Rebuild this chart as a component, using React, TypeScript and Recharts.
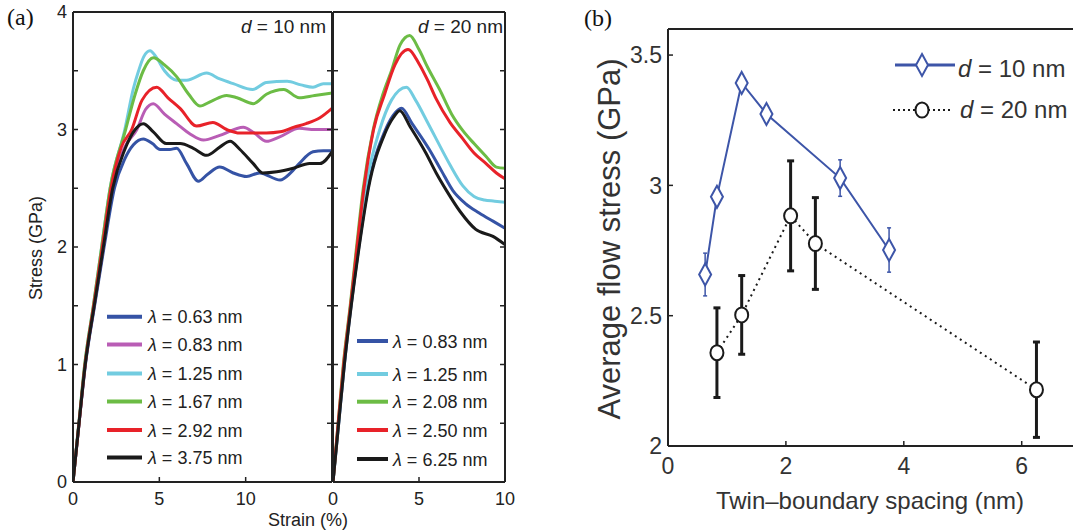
import React from "react";
import { LineChart, Line, XAxis, YAxis, ErrorBar } from "recharts";

type Pt = [number, number];

// (a) left: d = 10 nm, [strain (%), stress (GPa)]
const d10_063: Pt[] = [[0, 0], [0.35, 0.5], [0.72, 1.0], [1.25, 1.5], [1.8, 2.0], [2.4, 2.5], [3.0, 2.75], [3.5, 2.87], [4.07, 2.92], [4.6, 2.88], [5.04, 2.83], [5.6, 2.83], [6.0, 2.84], [6.58, 2.71], [7.26, 2.56], [7.8, 2.62], [8.5, 2.68], [9.28, 2.63], [10.06, 2.6], [10.8, 2.63], [12.0, 2.57], [12.6, 2.63], [13.1, 2.71], [13.9, 2.81], [14.5, 2.82], [15, 2.82]];
const d10_083: Pt[] = [[0, 0], [0.35, 0.5], [0.7, 1.0], [1.22, 1.5], [1.75, 2.0], [2.25, 2.5], [3.0, 2.85], [3.7, 3.0], [4.2, 3.17], [4.65, 3.22], [5.3, 3.13], [6.0, 3.05], [6.8, 2.96], [7.55, 2.91], [8.5, 2.95], [9.86, 3.02], [10.5, 2.97], [11.2, 2.9], [12.0, 2.94], [13.1, 3.01], [14.0, 3.0], [15, 3.0]];
const d10_125: Pt[] = [[0, 0], [0.34, 0.5], [0.68, 1.0], [1.18, 1.5], [1.66, 2.0], [2.15, 2.5], [3.0, 3.0], [3.5, 3.35], [3.8, 3.5], [4.1, 3.62], [4.46, 3.67], [4.8, 3.62], [5.3, 3.5], [6.0, 3.42], [6.58, 3.42], [7.74, 3.48], [8.5, 3.43], [9.28, 3.39], [10.4, 3.34], [11.2, 3.4], [12.4, 3.41], [13.2, 3.38], [13.9, 3.36], [14.5, 3.39], [15, 3.39]];
const d10_167: Pt[] = [[0, 0], [0.34, 0.5], [0.68, 1.0], [1.18, 1.5], [1.66, 2.0], [2.15, 2.5], [3.05, 3.0], [3.6, 3.3], [4.07, 3.5], [4.65, 3.61], [5.3, 3.55], [6.0, 3.45], [6.7, 3.3], [7.35, 3.2], [8.0, 3.24], [8.9, 3.29], [9.5, 3.27], [10.44, 3.22], [11.2, 3.3], [12.2, 3.34], [13.1, 3.27], [14.0, 3.29], [15, 3.31]];
const d10_292: Pt[] = [[0, 0], [0.35, 0.5], [0.7, 1.0], [1.2, 1.5], [1.7, 2.0], [2.2, 2.5], [2.8, 2.85], [3.4, 3.0], [4.0, 3.25], [4.85, 3.36], [5.5, 3.27], [6.2, 3.18], [7.16, 3.03], [8.1, 3.06], [8.9, 3.0], [9.67, 2.97], [11.2, 2.97], [12.0, 2.98], [12.8, 3.02], [13.5, 3.05], [14.3, 3.1], [15, 3.18]];
const d10_375: Pt[] = [[0, 0], [0.35, 0.5], [0.71, 1.0], [1.23, 1.5], [1.76, 2.0], [2.3, 2.5], [3.0, 2.83], [3.6, 3.0], [4.07, 3.05], [4.65, 2.98], [5.4, 2.88], [6.2, 2.88], [6.97, 2.84], [7.74, 2.78], [8.5, 2.85], [9.1, 2.9], [9.67, 2.83], [10.44, 2.71], [11.0, 2.63], [11.8, 2.64], [12.76, 2.67], [13.7, 2.71], [14.3, 2.71], [15, 2.81]];

// (a) right: d = 20 nm
const d20_083: Pt[] = [[0, 0], [0.33, 0.5], [0.66, 1.0], [1.05, 1.5], [1.5, 2.0], [2.03, 2.5], [3.0, 2.98], [3.5, 3.12], [3.98, 3.18], [4.6, 3.05], [5.6, 2.83], [6.3, 2.65], [6.97, 2.48], [7.7, 2.37], [8.5, 2.29], [9.3, 2.22], [10, 2.16]];
const d20_125: Pt[] = [[0, 0], [0.32, 0.5], [0.64, 1.0], [1.03, 1.5], [1.45, 2.0], [1.9, 2.5], [2.72, 3.0], [3.4, 3.25], [4.27, 3.36], [4.8, 3.25], [5.5, 3.06], [6.0, 2.92], [6.8, 2.7], [7.55, 2.52], [8.2, 2.43], [8.8, 2.4], [9.4, 2.39], [10, 2.38]];
const d20_208: Pt[] = [[0, 0], [0.3, 0.5], [0.6, 1.0], [1.0, 1.5], [1.37, 2.0], [1.76, 2.5], [2.34, 3.0], [2.9, 3.3], [3.4, 3.5], [3.9, 3.72], [4.46, 3.8], [5.0, 3.68], [5.5, 3.53], [6.2, 3.34], [6.9, 3.13], [7.55, 2.99], [8.2, 2.88], [8.9, 2.77], [9.5, 2.68], [10, 2.67]];
const d20_250: Pt[] = [[0, 0], [0.3, 0.5], [0.62, 1.0], [1.02, 1.5], [1.4, 2.0], [1.8, 2.5], [2.36, 3.0], [3.0, 3.3], [3.6, 3.55], [4.36, 3.68], [5.0, 3.56], [5.5, 3.42], [6.0, 3.26], [6.8, 3.06], [7.55, 2.92], [8.2, 2.8], [8.9, 2.71], [9.5, 2.63], [10, 2.58]];
const d20_625: Pt[] = [[0, 0], [0.33, 0.5], [0.66, 1.0], [1.06, 1.5], [1.52, 2.0], [2.06, 2.5], [3.0, 2.96], [3.5, 3.1], [3.88, 3.16], [4.5, 3.02], [5.4, 2.8], [6.0, 2.63], [6.6, 2.48], [7.4, 2.3], [8.3, 2.15], [9.3, 2.09], [10, 2.02]];

const lambdasD10 = ["0.63", "0.83", "1.25", "1.67", "2.92", "3.75"];
const lambdasD20 = ["0.83", "1.25", "2.08", "2.50", "6.25"];

// (b) twin-boundary spacing (nm) vs average flow stress (GPa), with error
const spacingD10 = [0.63, 0.83, 1.25, 1.67, 2.92, 3.75];
const flowD10 = [2.658, 2.956, 3.393, 3.274, 3.028, 2.752];
const errD10 = [0.082, 0.03, 0.03, 0.03, 0.07, 0.085];
const spacingD20 = [0.83, 1.25, 2.08, 2.5, 6.25];
const flowD20 = [2.358, 2.503, 2.883, 2.777, 2.216];
const errD20 = [0.172, 0.151, 0.211, 0.176, 0.183];

const BLUE = "#3553a5";
const MAGENTA = "#b95db5";
const CYAN = "#72cce0";
const GREEN = "#6cbc45";
const RED = "#e82229";
const BLACK = "#1a1a1a";
const BBLUE = "#3d55a8";
const AXIS = "#222";
const SANS = "'Liberation Sans', Arial, Helvetica, sans-serif";

const curvesD10 = [
  { pts: d10_063, color: BLUE },
  { pts: d10_083, color: MAGENTA },
  { pts: d10_125, color: CYAN },
  { pts: d10_167, color: GREEN },
  { pts: d10_292, color: RED },
  { pts: d10_375, color: BLACK },
];
const curvesD20 = [
  { pts: d20_083, color: BLUE },
  { pts: d20_125, color: CYAN },
  { pts: d20_208, color: GREEN },
  { pts: d20_250, color: RED },
  { pts: d20_625, color: BLACK },
];

const toRows = (pts: Pt[]) => pts.map(([x, y]) => ({ x, y }));
const intOnly = (v: number) => (Number.isInteger(v) ? String(v) : "");
const yTicksA = [0, 0.5, 1, 1.5, 2, 2.5, 3, 3.5, 4];
const axisLine = { stroke: AXIS, strokeWidth: 2 };

type Side = "left" | "right" | "bottom" | "top";
interface TickStyle {
  fontSize: number;
  fill: string;
}

// inward tick mark plus (optional) label; m is the tickMargin given to the axis
const inwardTick = (side: Side, m: number, style: TickStyle | null, fmt: (v: number) => string = String) => (props: any) => {
  const { x, y, payload, index } = props;
  const label = style ? fmt(payload.value) : "";
  const t = 5;
  let mark;
  let text = null;
  if (side === "left") {
    const ax = x + m;
    mark = <line x1={ax} x2={ax + t} y1={y} y2={y} stroke={AXIS} strokeWidth={1.5} />;
    if (label) text = <text x={x} y={y} dy="0.36em" textAnchor="end" fontSize={style!.fontSize} fill={style!.fill} fontFamily={SANS}>{label}</text>;
  } else if (side === "right") {
    const ax = x - m;
    mark = <line x1={ax} x2={ax - t} y1={y} y2={y} stroke={AXIS} strokeWidth={1.5} />;
  } else if (side === "bottom") {
    const ay = y - m;
    mark = <line x1={x} x2={x} y1={ay} y2={ay - t} stroke={AXIS} strokeWidth={1.5} />;
    if (label) text = <text x={x} y={y} dy="0.72em" textAnchor="middle" fontSize={style!.fontSize} fill={style!.fill} fontFamily={SANS}>{label}</text>;
  } else {
    const ay = y + m;
    mark = <line x1={x} x2={x} y1={ay} y2={ay + t} stroke={AXIS} strokeWidth={1.5} />;
  }
  return (
    <g key={index}>
      {mark}
      {text}
    </g>
  );
};

const tickA = { fontSize: 18, fill: "#222" };
const tickB = { fontSize: 23, fill: "#333" };

interface StressProps {
  width: number;
  margin: { top: number; right: number; bottom: number; left: number };
  xMax: number;
  curves: { pts: Pt[]; color: string }[];
  yLabels: boolean;
}

// axes are 1px thick so that recharts draws them; margins account for that
const StressPanel = ({ width, margin, xMax, curves, yLabels }: StressProps) => (
  <LineChart width={width} height={532} margin={margin}>
    <XAxis xAxisId="b" type="number" dataKey="x" domain={[0, xMax]} ticks={[0, 5, 10]} interval={0} height={1}
      tickSize={0} tickMargin={10} axisLine={axisLine} tickLine={false} tick={inwardTick("bottom", 10, tickA)} allowDataOverflow />
    <XAxis xAxisId="t" orientation="top" type="number" domain={[0, xMax]} ticks={[5, 10]} interval={0} height={1}
      tickSize={0} tickMargin={0} axisLine={axisLine} tickLine={false} tick={inwardTick("top", 0, null)} allowDataOverflow />
    <YAxis yAxisId="l" type="number" domain={[0, 4]} ticks={yTicksA} interval={0} width={1} tickSize={0}
      tickMargin={6} axisLine={axisLine} tickLine={false}
      tick={inwardTick("left", 6, yLabels ? tickA : null, intOnly)} allowDataOverflow />
    <YAxis yAxisId="r" orientation="right" type="number" domain={[0, 4]} ticks={yTicksA} interval={0} width={1}
      tickSize={0} tickMargin={0} axisLine={axisLine} tickLine={false} tick={inwardTick("right", 0, null)} allowDataOverflow />
    {curves.map((c, i) => (
      <Line
        key={i}
        xAxisId="b"
        yAxisId="l"
        data={toRows(c.pts)}
        dataKey="y"
        type="monotone"
        stroke={c.color}
        strokeWidth={3}
        dot={false}
        isAnimationActive={false}
      />
    ))}
  </LineChart>
);

const diamondDot = (props: any) => {
  const { cx, cy, index } = props;
  if (cx == null || cy == null) return <g key={index} />;
  return (
    <polygon
      key={index}
      points={`${cx},${cy - 11} ${cx + 6},${cy} ${cx},${cy + 11} ${cx - 6},${cy}`}
      fill="#fff"
      stroke={BBLUE}
      strokeWidth={2}
    />
  );
};

const circleDot = (props: any) => {
  const { cx, cy, index } = props;
  if (cx == null || cy == null) return <g key={index} />;
  return <ellipse key={index} cx={cx} cy={cy} rx={6.5} ry={7.5} fill="#fff" stroke={BLACK} strokeWidth={2} />;
};

const rowsD10 = spacingD10.map((x, i) => ({ x, y: flowD10[i], e: errD10[i] }));
const rowsD20 = spacingD20.map((x, i) => ({ x, y: flowD20[i], e: errD20[i] }));

const FlowPanel = () => (
  <LineChart width={493} height={532} margin={{ top: 28, right: 0, bottom: 85, left: 87 }}>
    <XAxis xAxisId="b" type="number" dataKey="x" domain={[0, 6.87]} ticks={[0, 2, 4, 6]} interval={0} height={1}
      tickSize={0} tickMargin={11} axisLine={axisLine} tickLine={false} tick={inwardTick("bottom", 11, tickB)} allowDataOverflow />
    <XAxis xAxisId="t" orientation="top" type="number" domain={[0, 6.87]} ticks={[2, 4, 6]} interval={0} height={1}
      tickSize={0} tickMargin={0} axisLine={axisLine} tickLine={false} tick={inwardTick("top", 0, null)} allowDataOverflow />
    <YAxis yAxisId="l" type="number" domain={[2, 3.6]} ticks={[2, 2.5, 3, 3.5]} interval={0} width={1} tickSize={0}
      tickMargin={6} axisLine={axisLine} tickLine={false} tick={inwardTick("left", 6, tickB)} allowDataOverflow />
    <Line
      xAxisId="b"
      yAxisId="l"
      data={rowsD20}
      dataKey="y"
      stroke={BLACK}
      strokeWidth={2}
      strokeDasharray="2 4"
      dot={circleDot}
      isAnimationActive={false}
    >
      <ErrorBar dataKey="e" direction="y" width={3.5} strokeWidth={3} stroke={BLACK} />
    </Line>
    <Line
      xAxisId="b"
      yAxisId="l"
      data={rowsD10}
      dataKey="y"
      stroke={BBLUE}
      strokeWidth={2}
      dot={diamondDot}
      isAnimationActive={false}
    >
      <ErrorBar dataKey="e" direction="y" width={2} strokeWidth={1.5} stroke={BBLUE} />
    </Line>
  </LineChart>
);

// text, legends and panel letters drawn on top
const Overlay = () => {
  const rowsL = [316.7, 344.5, 373.5, 401.5, 430, 457.5];
  const rowsR = [341, 374, 401.7, 430, 459];
  return (
    <svg
      width={1073}
      height={532}
      style={{ position: "absolute", left: 0, top: 0, pointerEvents: "none" }}
      fontFamily={SANS}
    >
      <text x={7} y={25} fontFamily="'Liberation Serif', 'Times New Roman', serif" fontSize={24} fill="#111">(a)</text>
      <text x={584} y={26} fontFamily="'Liberation Serif', 'Times New Roman', serif" fontSize={24} fill="#111">(b)</text>

      <text x={326} y={33} fontSize={19} fill="#222" textAnchor="end">
        <tspan fontStyle="italic">d</tspan> = 10 nm
      </text>
      <text x={503} y={33} fontSize={19} fill="#222" textAnchor="end">
        <tspan fontStyle="italic">d</tspan> = 20 nm
      </text>

      <text transform="translate(41.5,248) rotate(-90)" fontSize={18} fill="#222" textAnchor="middle">Stress (GPa)</text>
      <text x={308} y={526} fontSize={18} fill="#222" textAnchor="middle">Strain (%)</text>

      {lambdasD10.map((l, i) => (
        <g key={"l" + i}>
          <line x1={107} x2={142} y1={rowsL[i]} y2={rowsL[i]} stroke={curvesD10[i].color} strokeWidth={4} />
          <text x={148} y={rowsL[i] + 6.5} fontSize={18} fill="#222">
            <tspan fontStyle="italic">λ</tspan> = {l} nm
          </text>
        </g>
      ))}
      {lambdasD20.map((l, i) => (
        <g key={"r" + i}>
          <line x1={357} x2={388} y1={rowsR[i]} y2={rowsR[i]} stroke={curvesD20[i].color} strokeWidth={4} />
          <text x={393} y={rowsR[i] + 6.5} fontSize={18} fill="#222">
            <tspan fontStyle="italic">λ</tspan> = {l} nm
          </text>
        </g>
      ))}

      <text transform="translate(620,239) rotate(-90)" fontSize={31} fill="#333" textAnchor="middle">
        Average flow stress (GPa)
      </text>
      <text x={870} y={509} fontSize={24} fill="#333" textAnchor="middle">
        Twin–boundary spacing (nm)
      </text>

      <line x1={895} x2={955} y1={65} y2={65} stroke={BBLUE} strokeWidth={3} />
      <polygon points="922,54 928,65 922,76 916,65" fill="#fff" stroke={BBLUE} strokeWidth={2} />
      <text x={958} y={76.5} fontSize={24} fill="#333">
        <tspan fontStyle="italic">d</tspan> = 10 nm
      </text>
      <line x1={893} x2={953} y1={110} y2={110} stroke={BLACK} strokeWidth={2} strokeDasharray="2 3" />
      <ellipse cx={922} cy={110} rx={6.5} ry={7.5} fill="#fff" stroke={BLACK} strokeWidth={2} />
      <text x={960} y={118.3} fontSize={24} fill="#333">
        <tspan fontStyle="italic">d</tspan> = 20 nm
      </text>
    </svg>
  );
};

export default function App() {
  return (
    <div style={{ position: "absolute", left: 0, top: 0, width: 1073, height: 532, background: "#fff" }}>
      <div style={{ position: "absolute", left: 0, top: 0 }}>
        <StressPanel width={340} margin={{ top: 11, right: 7, bottom: 49, left: 72 }} xMax={15} curves={curvesD10} yLabels />
      </div>
      <div style={{ position: "absolute", left: 325, top: 0 }}>
        <StressPanel width={190} margin={{ top: 11, right: 9, bottom: 49, left: 7 }} xMax={10} curves={curvesD20} yLabels={false} />
      </div>
      <div style={{ position: "absolute", left: 580, top: 0 }}>
        <FlowPanel />
      </div>
      <Overlay />
    </div>
  );
}
